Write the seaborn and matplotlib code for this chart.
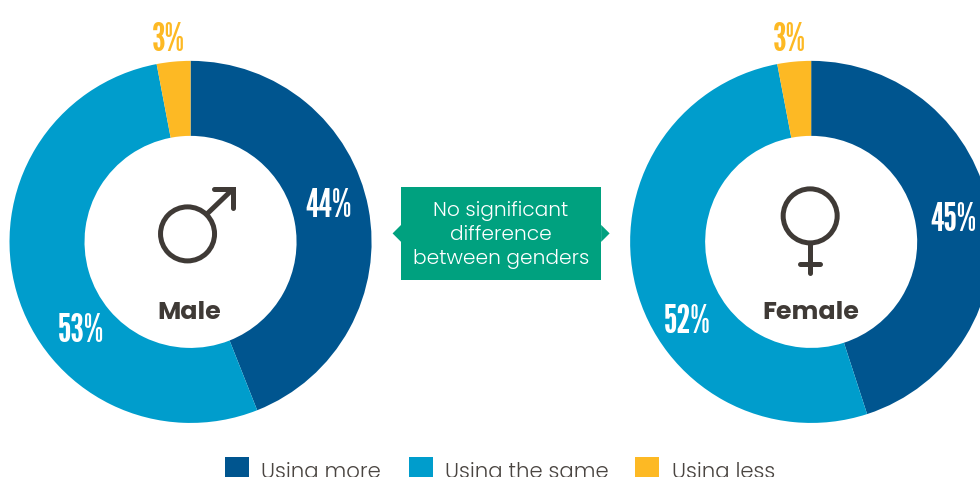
import matplotlib
matplotlib.use("Agg")
import matplotlib.pyplot as plt
from matplotlib.patches import Circle, Rectangle, Polygon
import seaborn as sns

categories = ["Using more", "Using the same", "Using less"]
male_values = [44, 53, 3]
female_values = [45, 52, 3]
colors = ["#00558F", "#009DCC", "#FDB924"]
callout_lines = ["No significant", "difference", "between genders"]

sns.set_theme(style="white")
narrow = ["League Gothic", "Pathway Gothic One", "Antonio", "DejaVu Sans"]
body = ["Poppins", "Lato", "DejaVu Sans"]
W, H = 980, 477
fig = plt.figure(figsize=((W + 0.2) / 100, (H + 0.2) / 100), dpi=100, facecolor="white")

def pie_axes(cx, cy, R, values):
    ax = fig.add_axes([(cx - R) / W, 1 - (cy + R) / H, 2 * R / W, 2 * R / H])
    ax.pie(values, colors=sns.color_palette(colors), startangle=90, counterclock=False,
           radius=1, wedgeprops=dict(width=75 / 181, linewidth=0))
    ax.set_xlim(-1, 1)
    ax.set_ylim(-1, 1)
    ax.set_aspect("equal")
    ax.axis("off")

pie_axes(190.5, 242, 181, male_values)
pie_axes(811, 242, 181, female_values)

ov = fig.add_axes([0, 0, 1, 1], zorder=5)
ov.set_xlim(0, W)
ov.set_ylim(H, 0)
ov.axis("off")
ov.patch.set_alpha(0)

def pct(x, y, v, color="white"):
    ov.text(x, y, f"{v}%", family=narrow, fontsize=28, color=color,
            ha="center", va="center_baseline")

pct(328, 202, male_values[0])
pct(81, 327, male_values[1])
pct(168, 36, male_values[2], colors[2])
pct(953, 216, female_values[0])
pct(687, 318, female_values[1])
pct(789, 36, female_values[2], colors[2])

dark = "#3F3A36"
lw = 3.6
ov.add_patch(Circle((187.5, 234), 27, fill=False, ec=dark, lw=lw))
ov.plot([207, 232], [214, 190], color=dark, lw=lw, solid_capstyle="round")
ov.plot([214, 232.5, 232.5], [189.5, 189.5, 208], color=dark, lw=lw, solid_capstyle="round", solid_joinstyle="miter")
ov.add_patch(Circle((810, 216), 27, fill=False, ec=dark, lw=lw))
ov.plot([810, 810], [243, 273], color=dark, lw=lw, solid_capstyle="round")
ov.plot([800, 820], [264, 264], color=dark, lw=lw, solid_capstyle="round")
ov.text(189, 310, "Male", family=body, fontweight="bold", fontsize=18.2, color=dark, ha="center", va="center_baseline")
ov.text(811, 310, "Female", family=body, fontweight="bold", fontsize=18.2, color=dark, ha="center", va="center_baseline")

green = "#00A17F"
ov.add_patch(Rectangle((401, 187), 200, 93, fc=green, ec="none"))
ov.add_patch(Polygon([(401, 225), (392.5, 233.5), (401, 242)], fc=green, ec="none"))
ov.add_patch(Polygon([(601, 225), (609.5, 233.5), (601, 242)], fc=green, ec="none"))
for line, y in zip(callout_lines, [208, 232, 256]):
    ov.text(501, y, line, family=body, fontweight=300, fontsize=14.5, color="white", ha="center", va="center_baseline")

for cat, c, x0, x1 in zip(categories, colors, [225, 409, 635], [261, 445, 672]):
    ov.add_patch(Rectangle((x0, 457), 23.5, 30, fc=c, ec="none"))
    ov.text(x1, 477.5, cat, family=body, fontweight=300, fontsize=15.3, color="#4A4541", ha="left", va="baseline")

fig.savefig("out.png", dpi=100)
